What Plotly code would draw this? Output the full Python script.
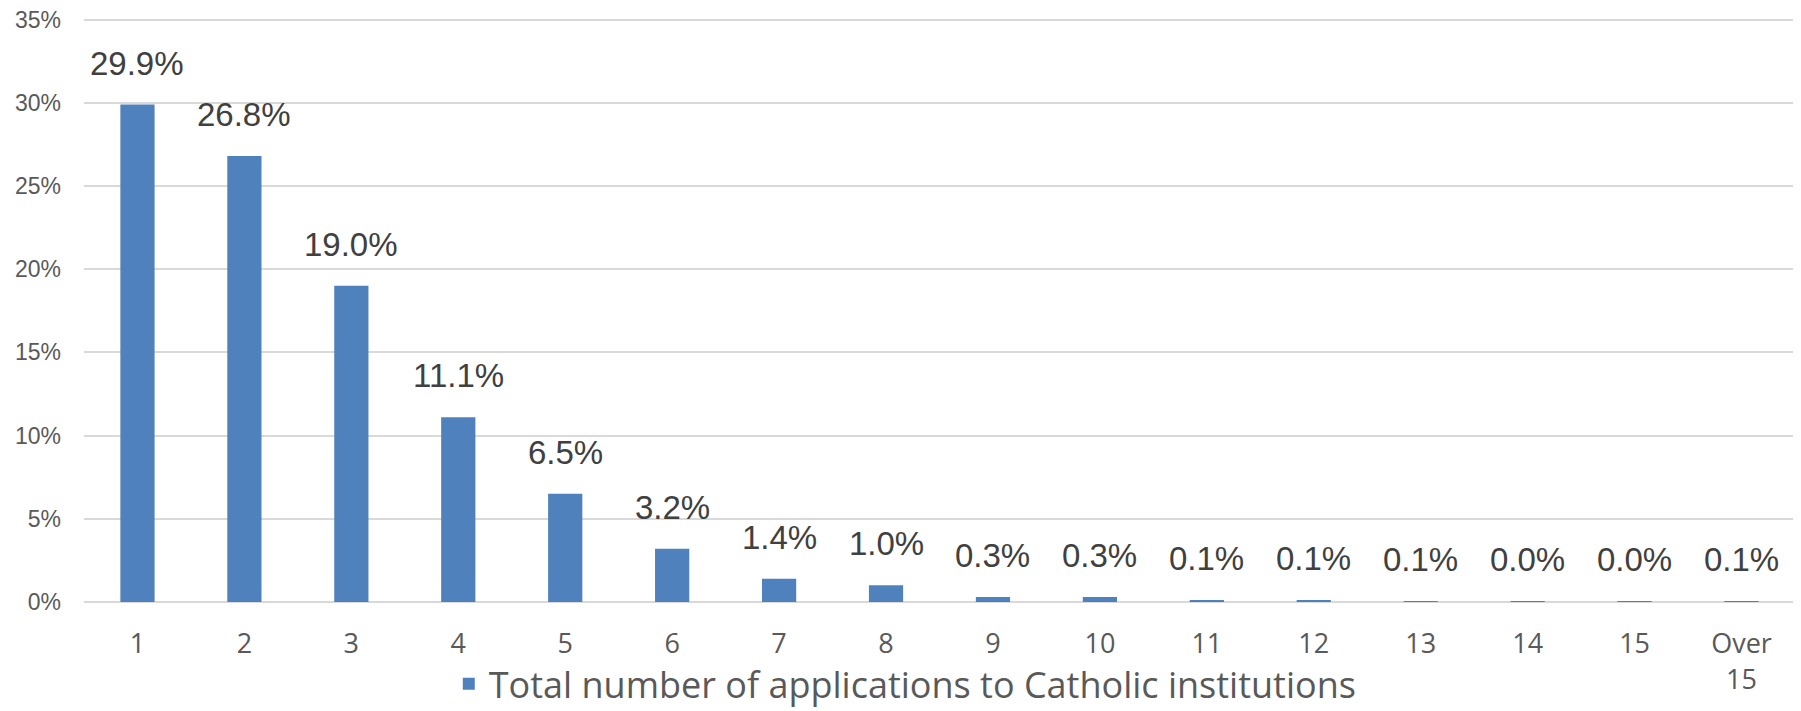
import plotly.graph_objects as go

categories = ["1", "2", "3", "4", "5", "6", "7", "8", "9", "10", "11", "12", "13", "14", "15", "Over<br>15"]
values = [29.9, 26.8, 19.0, 11.1, 6.5, 3.2, 1.4, 1.0, 0.3, 0.3, 0.1, 0.1, 0.06, 0.04, 0.04, 0.06]
series_name = "Total number of applications to Catholic institutions"
y_ticks = [0, 5, 10, 15, 20, 25, 30, 35]

BAR = "#4f81bd"
NARROW = "Open Sans, sans-serif"

fig = go.Figure()
fig.add_trace(go.Bar(
    x=categories, y=values, name=series_name,
    marker=dict(color=BAR, line=dict(width=0)),
    showlegend=True,
))

for i, v in enumerate(values):
    fig.add_annotation(
        x=i, y=v, xref="x", yref="y", text=f"{v:.1f}%", showarrow=False,
        yanchor="bottom", yshift=21,
        font=dict(family="Liberation Sans, Arial, sans-serif", size=33, color="#404040"),
    )

fig.update_layout(
    width=1793, height=703,
    margin=dict(l=76, r=6, t=10, b=109, autoexpand=False),
    plot_bgcolor="white", paper_bgcolor="white",
    bargap=0.68,
    showlegend=True,
    legend=dict(
        orientation="h", x=0.48, xanchor="center",
        yref="container", y=0.0385, yanchor="middle",
        font=dict(family=NARROW, size=36, color="#595959"),
        bgcolor="rgba(0,0,0,0)",
        itemwidth=30,
    ),
    xaxis=dict(
        type="category", automargin=False,
        tickfont=dict(family=NARROW, size=27, color="#595959"),
        ticks="outside", ticklen=18, tickcolor="rgba(0,0,0,0)",
        showgrid=False, showline=False,
    ),
    yaxis=dict(
        range=[0, 35.1], tickvals=y_ticks, ticktext=[f"{t}%" for t in y_ticks],
        automargin=False, ticklabeloverflow="allow",
        tickfont=dict(family="Liberation Sans, Arial, sans-serif", size=23, color="#595959"),
        gridcolor="#d9d9d9", gridwidth=1.5,
        zeroline=True, zerolinecolor="#d9d9d9", zerolinewidth=1.5,
        showline=False, ticks="", ticklabelstandoff=22,
    ),
)

fig.write_html("out.html")
